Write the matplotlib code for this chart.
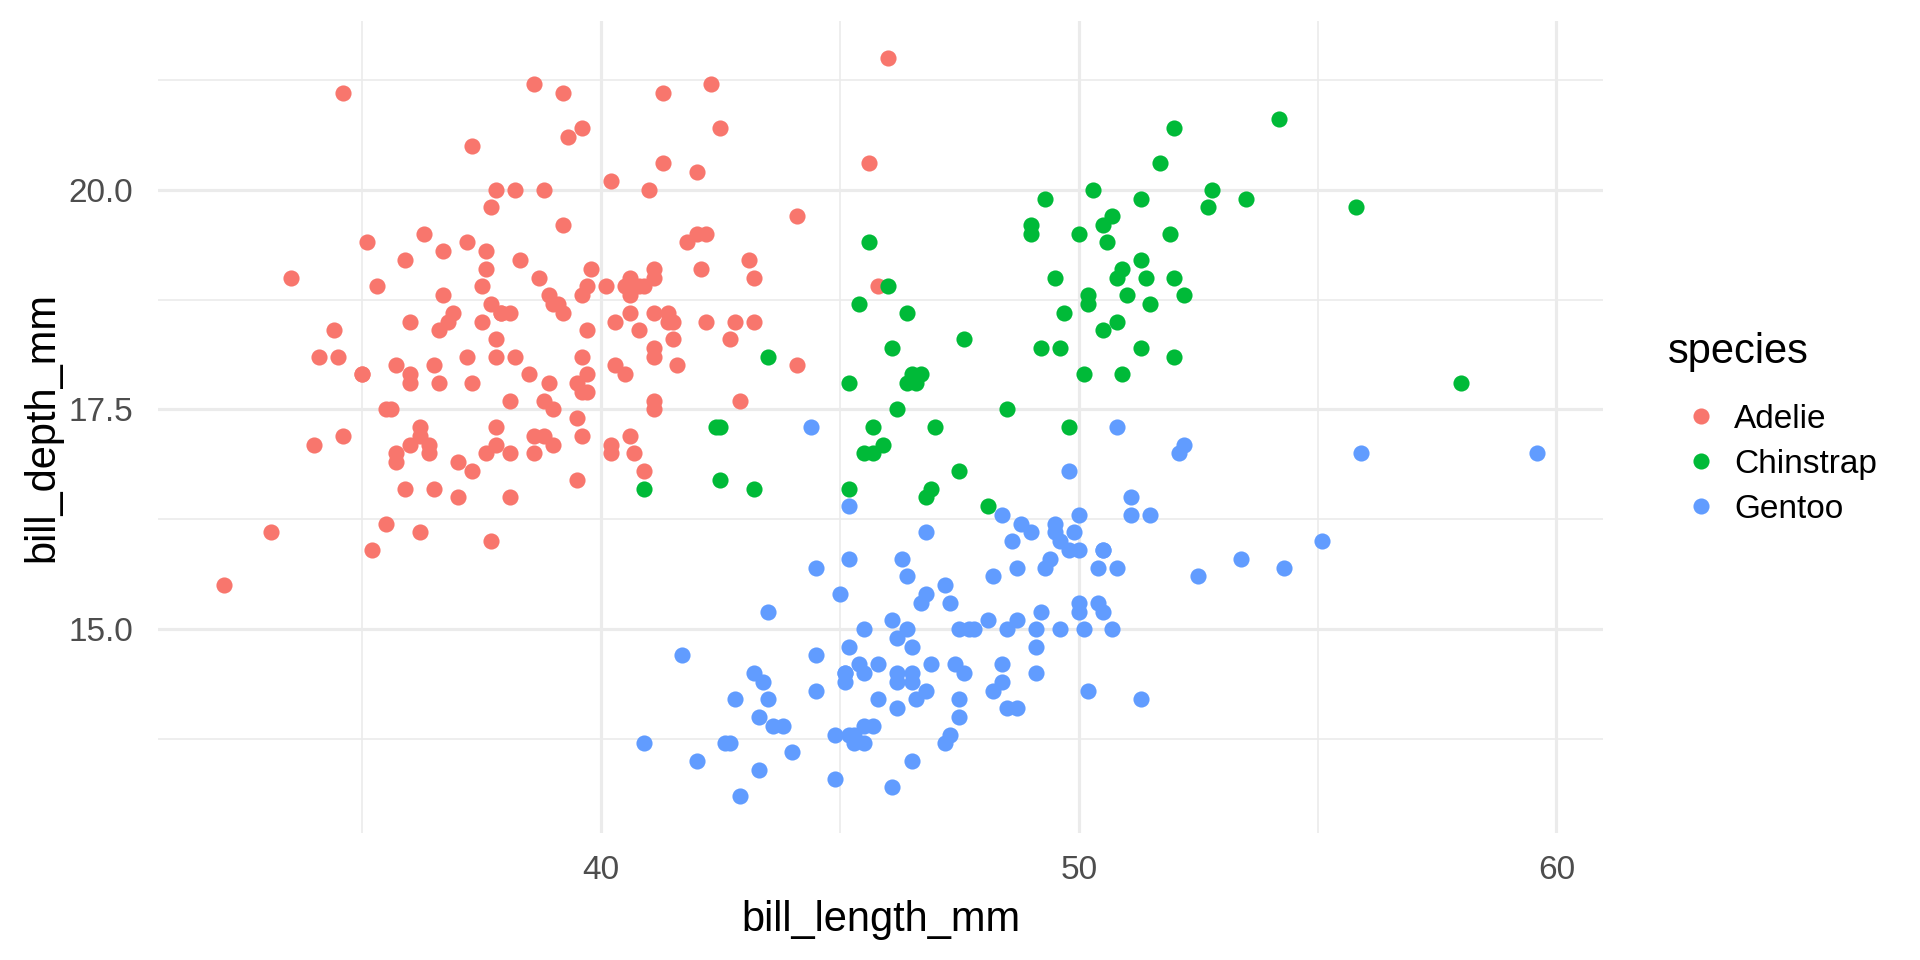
import matplotlib
matplotlib.use("Agg")
import matplotlib.pyplot as plt
from matplotlib.lines import Line2D
from matplotlib.ticker import FixedLocator

plt.rcParams["font.family"] = ["Liberation Sans", "DejaVu Sans"]

# palmer penguins, bill length / depth (mm)
adelie_len = [39.1, 39.5, 40.3, 36.7, 39.3, 38.9, 39.2, 34.1, 42.0, 37.8, 37.8, 41.1, 38.6, 34.6, 36.6, 38.7, 42.5, 34.4, 46.0,
              37.8, 37.7, 35.9, 38.2, 38.8, 35.3, 40.6, 40.5, 37.9, 40.5,
              39.5, 37.2, 39.5, 40.9, 36.4, 39.2, 38.8, 42.2, 37.6, 39.8, 36.5, 40.8, 36.0, 44.1, 37.0, 39.6, 41.1, 37.5, 36.0, 42.3,
              39.6, 40.1, 35.0, 42.0, 34.5, 41.4, 39.0, 40.6, 36.5, 37.6, 35.7, 41.3, 37.6, 41.1, 36.4, 41.6, 35.5, 41.1,
              35.9, 41.8, 33.5, 39.7, 39.6, 45.8, 35.5, 42.8, 40.9, 37.2, 36.2, 42.1, 34.6, 42.9, 36.7, 35.1,
              37.3, 41.3, 36.3, 36.9, 38.3, 38.9, 35.7, 41.1, 34.0, 39.6, 36.2, 40.8, 38.1, 40.3, 33.1, 43.2,
              35.0, 41.0, 37.7, 37.8, 37.9, 39.7, 38.6, 38.2, 38.1, 43.2, 38.1, 45.6, 39.7, 42.2, 39.6, 42.7,
              38.6, 37.3, 35.7, 41.1, 36.2, 37.7, 40.2, 41.4, 35.2, 40.6, 38.8, 41.5, 39.0, 44.1, 38.5, 43.1,
              36.8, 37.5, 38.1, 41.1, 35.6, 40.2, 37.0, 39.7, 40.2, 40.6, 32.1, 40.7, 37.3, 39.0, 39.2, 36.6, 36.0, 37.8, 36.0, 41.5]
adelie_dep = [18.7, 17.4, 18.0, 19.3, 20.6, 17.8, 19.6, 18.1, 20.2, 17.1, 17.3, 17.6, 21.2, 21.1, 17.8, 19.0, 20.7, 18.4, 21.5,
              18.3, 18.7, 19.2, 18.1, 17.2, 18.9, 18.6, 17.9, 18.6, 18.9,
              16.7, 18.1, 17.8, 18.9, 17.0, 21.1, 20.0, 18.5, 19.3, 19.1, 18.0, 18.4, 18.5, 19.7, 16.9, 18.8, 19.0, 18.9, 17.9, 21.2,
              17.7, 18.9, 17.9, 19.5, 18.1, 18.6, 17.5, 18.8, 16.6, 19.1, 16.9, 21.1, 17.0, 18.2, 17.1, 18.0, 16.2, 19.1,
              16.6, 19.4, 19.0, 18.4, 17.2, 18.9, 17.5, 18.5, 16.8, 19.4, 16.1, 19.1, 17.2, 17.6, 18.8, 19.4,
              17.8, 20.3, 19.5, 18.6, 19.2, 18.8, 18.0, 18.1, 17.1, 18.1, 17.3, 18.9, 18.6, 18.5, 16.1, 18.5,
              17.9, 20.0, 16.0, 20.0, 18.6, 18.9, 17.2, 20.0, 17.0, 19.0, 16.5, 20.3, 17.7, 19.5, 20.7, 18.3,
              17.0, 20.5, 17.0, 18.6, 17.2, 19.8, 17.0, 18.5, 15.9, 19.0, 17.6, 18.3, 17.1, 18.0, 17.9, 19.2,
              18.5, 18.5, 17.6, 17.5, 17.5, 20.1, 16.5, 17.9, 17.1, 17.2, 15.5, 17.0, 16.8, 18.7, 18.6, 18.4, 17.8, 18.1, 17.1, 18.5]

chinstrap_len = [46.5, 50.0, 51.3, 45.4, 52.7, 45.2, 46.1, 51.3, 46.0, 51.3, 46.6, 51.7, 47.0, 52.0, 45.9, 50.5, 50.3, 58.0,
                 46.4, 49.2, 42.4, 48.5, 43.2, 50.6, 46.7, 52.0, 50.5, 49.5, 46.4, 52.8, 40.9, 54.2, 42.5, 51.0,
                 49.7, 47.5, 47.6, 52.0, 46.9, 53.5, 49.0, 46.2, 50.9, 45.5, 50.9, 50.8, 50.1, 49.0, 51.5, 49.8,
                 48.1, 51.4, 45.7, 50.7, 42.5, 52.2, 45.2, 49.3, 50.2, 45.6, 51.9, 46.8, 45.7, 55.8, 43.5, 49.6, 50.8, 50.2]
chinstrap_dep = [17.9, 19.5, 19.2, 18.7, 19.8, 17.8, 18.2, 18.2, 18.9, 19.9, 17.8, 20.3, 17.3, 18.1, 17.1, 19.6, 20.0, 17.8,
                 18.6, 18.2, 17.3, 17.5, 16.6, 19.4, 17.9, 19.0, 18.4, 19.0, 17.8, 20.0, 16.6, 20.8, 16.7, 18.8,
                 18.6, 16.8, 18.3, 20.7, 16.6, 19.9, 19.5, 17.5, 19.1, 17.0, 17.9, 18.5, 17.9, 19.6, 18.7, 17.3,
                 16.4, 19.0, 17.3, 19.7, 17.3, 18.8, 16.6, 19.9, 18.8, 19.4, 19.5, 16.5, 17.0, 19.8, 18.1, 18.2, 19.0, 18.7]

gentoo_len = [46.1, 50.0, 48.7, 50.0, 47.6, 46.5, 45.4, 46.7, 43.3, 46.8, 40.9, 49.0, 45.5, 48.4, 45.8, 49.3, 42.0, 49.2,
              46.2, 48.7, 50.2, 45.1, 46.5, 46.3, 42.9, 46.1, 44.5, 47.8, 48.2, 50.0, 47.3, 42.8, 45.1, 59.6,
              49.1, 48.4, 42.6, 44.4, 44.0, 48.7, 42.7, 49.6, 45.3, 49.6, 50.5, 43.6, 45.5, 50.5, 44.9, 45.2,
              46.6, 48.5, 45.1, 50.1, 46.5, 45.0, 43.8, 45.5, 43.2, 50.4, 45.3, 46.2, 45.7, 54.3, 45.8, 49.8,
              46.2, 49.5, 43.5, 50.7, 47.7, 46.4, 48.2, 46.5, 46.4, 48.6, 47.5, 51.1, 45.2, 45.2, 49.1, 52.5,
              47.4, 50.0, 44.9, 50.8, 43.4, 51.3, 47.5, 52.1, 47.5, 52.2, 45.5, 49.5, 44.5, 50.8, 49.4, 46.9,
              48.4, 51.1, 48.5, 55.9, 47.2, 49.1, 47.3, 46.8, 41.7, 53.4, 43.3, 48.1, 50.5, 49.8, 43.5, 51.5,
              46.2, 55.1, 44.5, 48.8, 47.2, 46.8, 50.4, 45.2, 49.9]
gentoo_dep = [13.2, 16.3, 14.1, 15.2, 14.5, 13.5, 14.6, 15.3, 13.4, 15.4, 13.7, 16.1, 13.7, 14.6, 14.6, 15.7, 13.5, 15.2,
              14.5, 15.1, 14.3, 14.5, 14.5, 15.8, 13.1, 15.1, 14.3, 15.0, 14.3, 15.3, 15.3, 14.2, 14.5, 17.0,
              14.8, 16.3, 13.7, 17.3, 13.6, 15.7, 13.7, 16.0, 13.7, 15.0, 15.9, 13.9, 13.9, 15.9, 13.3, 15.8,
              14.2, 14.1, 14.4, 15.0, 14.4, 15.4, 13.9, 15.0, 14.5, 15.3, 13.8, 14.9, 13.9, 15.7, 14.2, 16.8,
              14.4, 16.2, 14.2, 15.0, 15.0, 15.6, 15.6, 14.8, 15.0, 16.0, 14.2, 16.3, 13.8, 16.4, 14.5, 15.6,
              14.6, 15.9, 13.8, 17.3, 14.4, 14.2, 14.0, 17.0, 15.0, 17.1, 14.5, 16.1, 14.7, 15.7, 15.8, 14.6,
              14.4, 16.5, 15.0, 17.0, 15.5, 15.0, 13.8, 16.1, 14.7, 15.8, 14.0, 15.1, 15.2, 15.9, 15.2, 16.3,
              14.1, 16.0, 15.7, 16.2, 13.7, 14.3, 15.7, 14.8, 16.1]

species = ["Adelie", "Chinstrap", "Gentoo"]
colors = ["#F8766D", "#00BA38", "#619CFF"]
x_ticks = [40, 50, 60]
y_ticks = [15.0, 17.5, 20.0]
y_tick_labels = ["15.0", "17.5", "20.0"]

fig = plt.figure(figsize=(19.2, 9.6), dpi=100)
ax = fig.add_axes([158 / 1920, 1 - 833 / 960, (1603 - 158) / 1920, (833 - 21) / 960])

for xs, ys, c in zip([adelie_len, chinstrap_len, gentoo_len], [adelie_dep, chinstrap_dep, gentoo_dep], colors):
    ax.scatter(xs, ys, s=135, color=c, linewidths=0, zorder=3)

all_x = adelie_len + chinstrap_len + gentoo_len
all_y = adelie_dep + chinstrap_dep + gentoo_dep
xr = max(all_x) - min(all_x)
yr = max(all_y) - min(all_y)
ax.set_xlim(min(all_x) - 0.05 * xr, max(all_x) + 0.05 * xr)
ax.set_ylim(min(all_y) - 0.05 * yr, max(all_y) + 0.05 * yr)

ax.xaxis.set_major_locator(FixedLocator(x_ticks))
ax.xaxis.set_minor_locator(FixedLocator([35, 45, 55]))
ax.set_yticks(y_ticks)
ax.set_yticklabels(y_tick_labels)
ax.yaxis.set_minor_locator(FixedLocator([13.75, 16.25, 18.75, 21.25]))

ax.grid(which="major", color="#EBEBEB", linewidth=2.3)
ax.grid(which="minor", color="#EBEBEB", linewidth=1.2)
ax.set_axisbelow(True)
for sp in ax.spines.values():
    sp.set_visible(False)
ax.tick_params(which="both", length=0, labelsize=24, labelcolor="#4D4D4D")
ax.tick_params(axis="x", pad=16)
ax.tick_params(axis="y", pad=18)

ax.set_xlabel("bill_length_mm", fontsize=30, labelpad=10)
ax.set_ylabel("bill_depth_mm", fontsize=30, labelpad=4)

# legend: title drawn separately so it can sit a little left of the keys
fig.text(1668 / 1920, 1 - 363 / 960, "species", fontsize=30, ha="left", va="baseline")
handles = [Line2D([], [], marker="o", linestyle="", markersize=11.6, markerfacecolor=c,
                  markeredgewidth=0) for c in colors]
leg = fig.legend(handles, species, loc="upper left", bbox_to_anchor=(1666 / 1920, 1 - 387 / 960),
                 frameon=False, fontsize=24, handlelength=1.1, handletextpad=0.45,
                 labelspacing=0.42, borderpad=0)

fig.savefig("out.png", dpi=100, facecolor="white")
